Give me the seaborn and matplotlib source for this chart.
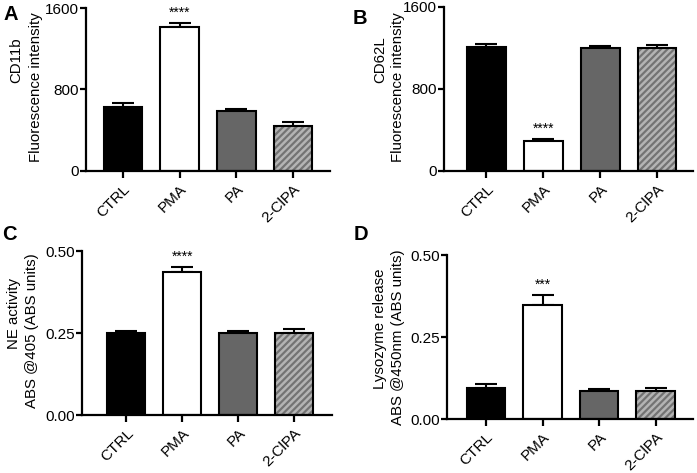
import matplotlib
matplotlib.use("Agg")
import matplotlib.pyplot as plt
import matplotlib.transforms as mtransforms
import seaborn as sns
import pandas as pd
import numpy as np

sns.set_theme(style="ticks", rc={"axes.edgecolor": "black", "xtick.color": "black",
                                 "ytick.color": "black", "text.color": "black",
                                 "axes.labelcolor": "black"})
plt.rcParams['font.family'] = ['Liberation Sans', 'DejaVu Sans']
plt.rcParams['hatch.linewidth'] = 1.8

categories = ["CTRL", "PMA", "PA", "2-ClPA"]

cd11b_mean = [631, 1417, 592, 442]
cd11b_err = [40, 36, 20, 39]

cd62l_mean = [1209, 297, 1202, 1202]
cd62l_err = [26, 13, 17, 23]

ne_mean = [0.249, 0.436, 0.249, 0.251]
ne_err = [0.007, 0.014, 0.007, 0.012]

lyso_mean = [0.096, 0.348, 0.084, 0.084]
lyso_err = [0.012, 0.029, 0.006, 0.010]

W, H = 697, 473

panels = [
    dict(letter="A", mean=cd11b_mean, err=cd11b_err, ylabel=("CD11b", "Fluorescence intensity"),
         yticks=[0, 800, 1600], yticklabels=["0", "800", "1600"], ylim=(0, 1600), star="****", star_idx=1,
         rect=[86/W, 1-171/H, 244/W, 163/H], xlim=(-0.65, 3.65), letter_xy=(3, 15),
         lab_xy=((16, 60), (36, 87))),
    dict(letter="B", mean=cd62l_mean, err=cd62l_err, ylabel=("CD62L", "Fluorescence intensity"),
         yticks=[0, 800, 1600], yticklabels=["0", "800", "1600"], ylim=(0, 1600), star="****", star_idx=1,
         rect=[444/W, 1-171/H, 249/W, 164/H], xlim=(-0.745, 3.63), letter_xy=(353, 19),
         lab_xy=((380, 60), (398, 87))),
    dict(letter="C", mean=ne_mean, err=ne_err, ylabel=("NE activity", "ABS @405 (ABS units)"),
         yticks=[0, 0.25, 0.5], yticklabels=["0.00", "0.25", "0.50"], ylim=(0, 0.5), star="****", star_idx=1,
         rect=[82/W, 1-415/H, 250/W, 164/H], xlim=(-0.79, 3.68), letter_xy=(2, 234),
         lab_xy=((14, 313), (32, 331))),
    dict(letter="D", mean=lyso_mean, err=lyso_err, ylabel=("Lysozyme release", "ABS @450nm (ABS units)"),
         yticks=[0, 0.25, 0.5], yticklabels=["0.00", "0.25", "0.50"], ylim=(0, 0.5), star="***", star_idx=1,
         rect=[447/W, 1-419/H, 246/W, 164/H], xlim=(-0.69, 3.66), letter_xy=(354, 234),
         lab_xy=((380, 329), (398, 337))),
]

facecolors = ["black", "white", "#666666", "#737373"]
hatches = [None, None, None, "/////"]

fig = plt.figure(figsize=(W/100, H/100), dpi=100)
shift = mtransforms.ScaledTranslation(5/100, 0, fig.dpi_scale_trans)

for p in panels:
    ax = fig.add_axes(p["rect"])
    df = pd.DataFrame({"group": categories, "value": p["mean"]})
    sns.barplot(data=df, x="group", y="value", ax=ax, width=0.68, errorbar=None,
                color="white", edgecolor="black", linewidth=1.5, zorder=2)
    for i, bar in enumerate(ax.patches):
        bar.set_facecolor(facecolors[i])
        if hatches[i]:
            bar.set_hatch(hatches[i])
            bar._hatch_color = matplotlib.colors.to_rgba("#b4b4b4")
    ax.errorbar(range(4), p["mean"], yerr=[[0]*4, p["err"]], fmt="none", ecolor="black",
                elinewidth=1.5, capsize=8, capthick=1.5, zorder=1)
    ax.set_xlim(*p["xlim"])
    ax.set_ylim(*p["ylim"])
    ax.set_yticks(p["yticks"])
    ax.set_yticklabels(p["yticklabels"])
    ax.set_xlabel("")
    ax.set_ylabel("")
    ax.set_xticks(range(4))
    ax.set_xticklabels(categories, rotation=45, ha="right", rotation_mode="anchor", fontsize=11)
    for lab in ax.get_xticklabels():
        lab.set_transform(lab.get_transform() + shift)
    ax.tick_params(axis="y", labelsize=11, width=1.6, length=4, pad=1)
    ax.tick_params(axis="x", width=1.6, length=5, pad=3)
    for s in ["left", "bottom"]:
        ax.spines[s].set_linewidth(1.6)
    sns.despine(ax=ax)
    si = p["star_idx"]
    ytop = p["mean"][si] + p["err"][si]
    ax.text(si, ytop + (p["ylim"][1]) * 0.02, p["star"], ha="center", va="bottom", fontsize=10)
    for txt, (tx, ty) in zip(p["ylabel"], p["lab_xy"]):
        fig.text(tx / W, 1 - ty / H, txt, rotation=90, ha="center", va="center", fontsize=10.8)
    lx, ly = p["letter_xy"]
    fig.text(lx / W, 1 - ly / H, p["letter"], fontsize=14.5, fontweight="bold",
             ha="left", va="center")

fig.savefig("out.png", dpi=100)
